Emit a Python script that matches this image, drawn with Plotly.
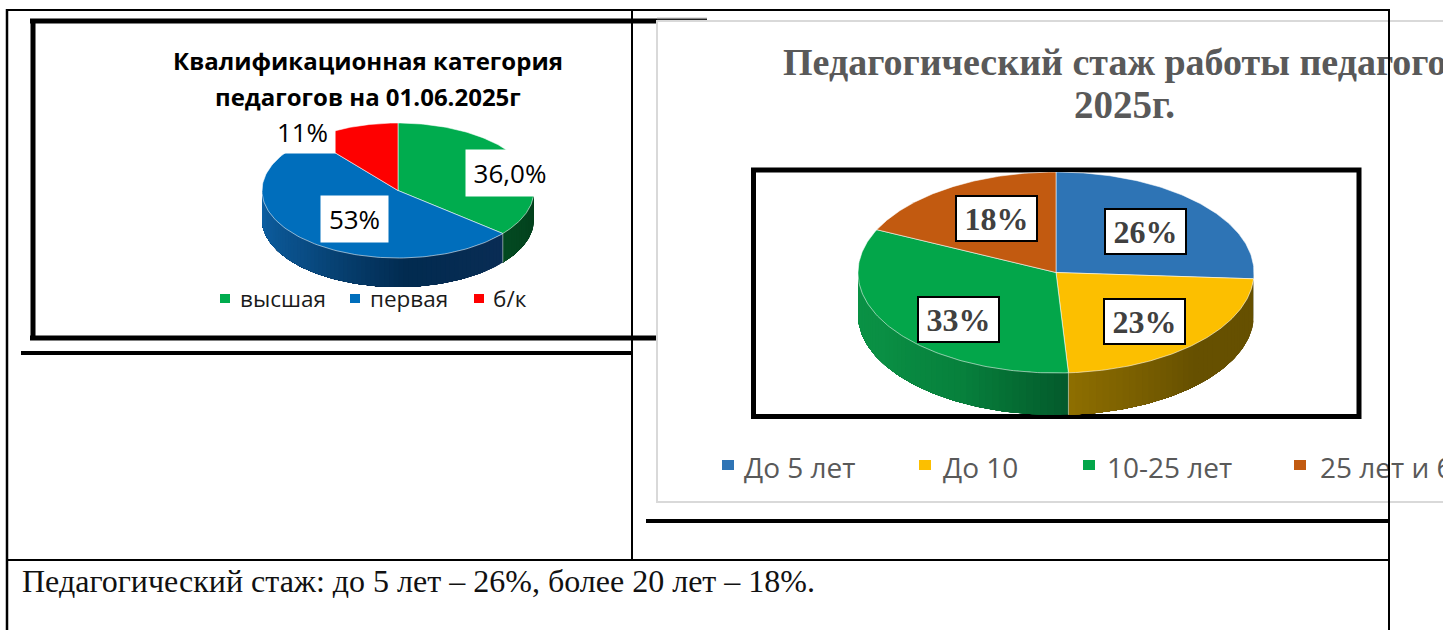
import numpy as np
import plotly.graph_objects as go

W, H = 1443, 630

# ---- data ----
cat_categories = ["высшая", "первая", "б/к"]
cat_values = [36.0, 53, 11]
cat_labels = ["36,0%", "53%", "11%"]
cat_colors = ["#00ac4e", "#006ebc", "#fe0000"]

exp_categories = ["До 5 лет", "До 10", "10-25 лет", "25 лет и более"]
exp_values = [26, 23, 33, 18]
exp_labels = ["26%", "23%", "33%", "18%"]
exp_colors = ["#2e74b5", "#fcbf00", "#03a64a", "#c25a10"]

cat_title_1 = "Квалификационная категория"
cat_title_2 = "педагогов на 01.06.2025г"
exp_title_1 = "Педагогический стаж работы педагогов"
exp_title_2 = "2025г."
note_text = "Педагогический стаж: до 5 лет – 26%, более 20 лет – 18%."

# side-wall colours, clockwise (right to left)
cat_side = [["#033f1c", "#044a22"],
            ["#0a2d55", "#022b50", "#0a4d85", "#0e64a8"],
            ["#600000", "#600000"]]
exp_side = [["#1f4e79", "#1f4e79"],
            ["#665000", "#665000", "#665000", "#7a5f00", "#8f6f00"],
            ["#045a2c", "#07803c", "#0a8f44", "#0a9346"],
            ["#753608", "#753608"]]


def hex_rgb(h):
    return np.array([int(h[i:i + 2], 16) for i in (1, 3, 5)], float)


def ramp(stops, f):
    p = f * (len(stops) - 1)
    i = min(int(p), len(stops) - 2)
    c = hex_rgb(stops[i]) * (1 - (p - i)) + hex_rgb(stops[i + 1]) * (p - i)
    return "rgb(%d,%d,%d)" % tuple(c)


fig = go.Figure()


def add_pie(values, colors, side, box, sub):
    """box = left, top, right, bottom-of-top-face, bottom-of-wall in pixels"""
    left, top, right, face_bottom, wall_bottom = box
    depth = (wall_bottom - face_bottom) / ((face_bottom - top) / 2)
    ax = str(sub)
    fig.update_layout({
        "xaxis" + ax: dict(domain=[left / W, right / W], range=[-1, 1], visible=False, fixedrange=True,
                           anchor="y" + ax),
        "yaxis" + ax: dict(domain=[1 - wall_bottom / H, 1 - top / H], range=[-1 - depth, 1], visible=False,
                           fixedrange=True, anchor="x" + ax),
    })
    kw = dict(xaxis="x" + ax, yaxis="y" + ax, hoverinfo="skip", showlegend=False, mode="lines",
              fill="toself", cliponaxis=False)
    edges = np.cumsum([0] + list(values)) / sum(values) * 2 * np.pi
    # front walls: each strip reaches to the end of the slice, the next one paints over it
    for k in range(len(values)):
        a0, a1 = max(edges[k], np.pi / 2), min(edges[k + 1], 3 * np.pi / 2)
        if a1 <= a0:
            continue
        n = max(2, int((a1 - a0) / np.radians(2)))
        cuts = np.linspace(a0, a1, n + 1)
        for j in range(n):
            a = np.linspace(cuts[j], a1, max(3, 2 * (n - j)))
            xs = np.sin(a)
            ys = np.cos(a)
            px = np.r_[xs, xs[::-1]]
            py = np.r_[ys, ys[::-1] - depth]
            col = ramp(side[k], (j + .5) / n)
            fig.add_trace(go.Scatter(x=px, y=py, line=dict(width=0, color=col), fillcolor=col, **kw))
    # top faces
    for k in range(len(values)):
        a = np.linspace(edges[k], edges[k + 1], 120)
        px = np.r_[0, np.sin(a), 0]
        py = np.r_[0, np.cos(a), 0]
        fig.add_trace(go.Scatter(x=px, y=py, line=dict(width=1, color="rgba(255,255,255,0.55)"),
                                 fillcolor=colors[k], **kw))
    # light seams on the front wall
    for e in edges:
        if np.pi / 2 < e < 3 * np.pi / 2:
            fig.add_trace(go.Scatter(x=[np.sin(e)] * 2, y=[np.cos(e), np.cos(e) - depth],
                                     xaxis="x" + ax, yaxis="y" + ax, mode="lines", hoverinfo="skip",
                                     showlegend=False, line=dict(width=1, color="rgba(255,255,255,0.5)")))


add_pie(cat_values, cat_colors, cat_side, (262, 123, 534, 258, 287), 1)
add_pie(exp_values, exp_colors, exp_side, (858, 172, 1254, 373, 415), 2)

# page-level axes for the two texts that the table rule passes over
fig.update_layout(
    xaxis3=dict(domain=[0, 1], range=[0, W], visible=False, fixedrange=True, anchor="y3"),
    yaxis3=dict(domain=[0, 1], range=[H, 0], visible=False, fixedrange=True, anchor="x3"),
)


def page_text(s, x, y, size, color, family):
    fig.add_trace(go.Scatter(x=[x], y=[y], text=[s], mode="text", textposition="middle right",
                             textfont=dict(size=size, color=color, family=family), xaxis="x3", yaxis="y3",
                             hoverinfo="skip", showlegend=False, cliponaxis=False))


shapes = []


def line(x0, y0, x1, y1, w=2, c="#000000", layer="below"):
    shapes.append(dict(type="line", xref="paper", yref="paper", x0=x0 / W, x1=x1 / W, y0=1 - y0 / H, y1=1 - y1 / H,
                       line=dict(color=c, width=w), layer=layer))


def rect(x0, y0, x1, y1, fill=None, lc=None, w=0):
    shapes.append(dict(type="rect", xref="paper", yref="paper", x0=x0 / W, x1=x1 / W, y0=1 - y0 / H, y1=1 - y1 / H,
                       fillcolor=fill or "rgba(0,0,0,0)", line=dict(color=lc or "rgba(0,0,0,0)", width=w),
                       layer="below"))


anns = []


def text(s, x, y, size, color, family, anchor="center", bold=False, **extra):
    anns.append(dict(text="<b>%s</b>" % s if bold else s, xref="paper", yref="paper", x=x / W, y=1 - y / H,
                     xanchor=anchor, yanchor="middle", showarrow=False,
                     font=dict(size=size, color=color, family=family), **extra))


# left chart frame (behind the right chart box)
line(30, 21, 707, 21, 5)
line(33, 21, 33, 338, 5)
line(30, 338, 660, 338, 5)
line(657, 18.5, 707, 18.5, 1.5, "#8c8c8c")
line(21, 353, 632, 353, 4)

# right chart box
rect(657, 21, W + 20, 502, "#ffffff", "#d9d9d9", 2)
rect(753.5, 170, 1359, 416.5, "#ffffff", "#000000", 5)
line(646, 521, 1389, 521, 4)

# page table rules
line(7, 10, 1389, 10, 2)
line(7, 9, 7, H, 2.5)
line(632, 9, 632, 560, 2)
line(1389, 9, 1389, H, 2, layer="above")
line(7, 560, 1389, 560, 2)

SANS = "Open Sans"
SERIF = "Liberation Serif"

# left chart
text(cat_title_1, 368, 60, 24, "#000000", SANS, bold=True)
text(cat_title_2, 368, 96, 24, "#000000", SANS, bold=True)
text(cat_labels[0], 510, 173, 26, "#000000", SANS, width=86, height=44, bgcolor="#ffffff")
text(cat_labels[1], 354, 219, 26, "#000000", SANS, width=65, height=44, bgcolor="#ffffff")
text(cat_labels[2], 302, 131, 26, "#000000", SANS, width=63, height=41, bgcolor="#ffffff")
cat_leg = [(220, 238), (350, 368), (474, 491)]
for (sx, tx), name, col in zip(cat_leg, cat_categories, cat_colors):
    rect(sx, 294, sx + 10, 303, col)
    text(name, tx, 298, 22.5, "#1a1a1a", SANS, anchor="left")

# right chart
page_text("<b>%s</b>" % exp_title_1, 783, 65, 38, "#595959", SERIF)
text(exp_title_2, 1124, 105, 39, "#595959", SERIF, bold=True)
exp_pos = [(1145, 231), (1144, 321), (958, 319), (996, 218)]
for s, (x, y) in zip(exp_labels, exp_pos):
    text(s, x, y, 32, "#404040", SERIF, bold=True, width=77, height=41, bgcolor="#ffffff",
         bordercolor="#000000", borderwidth=2)
exp_leg = [(722, 742), (919, 941), (1083, 1105)]
for (sx, tx), name, col in zip(exp_leg, exp_categories[:3], exp_colors[:3]):
    rect(sx, 460, sx + 12, 470, col)
    text(name, tx, 467, 28, "#595959", SANS, anchor="left")
rect(1294, 460, 1306, 470, exp_colors[3])
page_text(exp_categories[3], 1320, 471, 28, "#595959", SANS)

# note under the table
text(note_text, 20, 581, 32, "#111111", SERIF, anchor="left")

fig.update_layout(width=W, height=H, autosize=False, margin=dict(l=0, r=0, t=0, b=0, pad=0),
                  paper_bgcolor="#ffffff", plot_bgcolor="rgba(0,0,0,0)", showlegend=False,
                  shapes=shapes, annotations=anns)

fig.write_html("out.html", config=dict(displayModeBar=False),
               post_script="document.body.style.margin='0';document.documentElement.style.overflow='hidden';")
